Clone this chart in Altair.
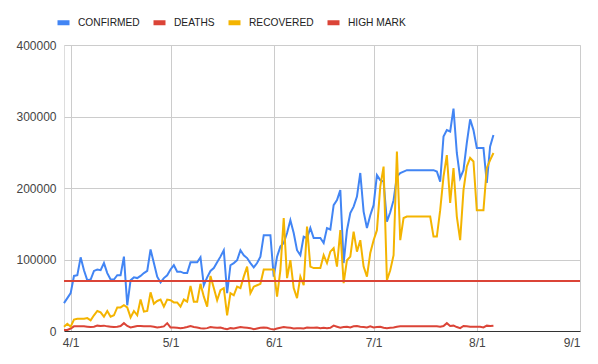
import altair as alt
import pandas as pd

start_date = "2020-03-30"

confirmed = [
    39000, 46000, 53000, 77000, 78000, 103000, 85000, 71000, 72000, 84000,
    86000, 85000, 95000, 81000, 72000, 72000, 78000, 78000, 104000, 36000,
    71000, 75000, 74000, 77000, 81000, 84000, 114000, 95000, 76000, 68000,
    74000, 78000, 86000, 92000, 83000, 83000, 81000, 81000, 96000, 96000,
    96000, 103000, 64000, 75000, 84000, 88000, 96000, 104000, 113000, 53000,
    92000, 95000, 99000, 113000, 106000, 102000, 95000, 89000, 95000, 104000,
    134000, 134000, 134000, 76000, 104000, 118000, 123000, 137000, 155000, 137000,
    113000, 106000, 132000, 130000, 144000, 130000, 130000, 130000, 123000, 144000,
    142000, 176000, 183000, 197000, 95000, 141000, 165000, 174000, 188000, 221000,
    167000, 144000, 162000, 176000, 218000, 211000, 209000, 153000, 166000, 183000,
    216000, 221000, 223000, 225000, 225000, 225000, 225000, 225000, 225000, 225000,
    225000, 225000, 223000, 209000, 272000, 281000, 279000, 311000, 249000, 214000,
    225000, 263000, 296000, 281000, 256000, 256000, 256000, 207000, 258000, 274000,
]

deaths = [
    1500, 1500, 3500, 6500, 6500, 6500, 6500, 6000, 5500, 6000,
    7500, 7000, 7500, 6500, 6000, 5500, 6000, 7000, 11000, 7000,
    5000, 6000, 7000, 7000, 6500, 6500, 6500, 6000, 5000, 5500,
    6500, 11000, 5000, 5000, 4500, 4000, 4500, 5500, 7000, 5500,
    5000, 4000, 3500, 4000, 5500, 5000, 4500, 5000, 3500, 2500,
    4000, 3500, 4500, 5500, 5000, 4500, 4000, 2500, 3500, 4500,
    5000, 4500, 3000, 2000, 3500, 4500, 5500, 5000, 4500, 3500,
    4000, 4000, 3500, 5000, 4500, 4500, 5000, 4000, 4500, 4000,
    4500, 7500, 6000, 4500, 5500, 6000, 5000, 6500, 7000, 6000,
    5500, 5000, 6500, 5000, 5500, 6000, 4500, 4000, 4500, 5000,
    6000, 6500, 6500, 6500, 6500, 6500, 6500, 6500, 6500, 6500,
    6500, 6500, 6500, 6000, 7000, 11000, 7000, 7500, 5500, 4000,
    7000, 6500, 6000, 6000, 6000, 6000, 5000, 7500, 7000, 7500,
]

recovered = [
    6000, 10000, 6000, 16000, 17000, 17000, 17000, 18000, 15000, 22000,
    28000, 26000, 20000, 28000, 20000, 22000, 33000, 33000, 36000, 33000,
    19000, 28000, 22000, 44000, 27000, 28000, 54000, 38000, 42000, 44000,
    34000, 44000, 43000, 40000, 40000, 34000, 44000, 41000, 63000, 41000,
    41000, 66000, 48000, 34000, 77000, 60000, 43000, 57000, 60000, 22000,
    53000, 50000, 62000, 60000, 76000, 90000, 53000, 62000, 64000, 66000,
    86000, 86000, 86000, 86000, 48000, 85000, 158000, 74000, 99000, 60000,
    46000, 76000, 64000, 146000, 90000, 88000, 88000, 88000, 106000, 95000,
    111000, 116000, 90000, 141000, 67000, 99000, 104000, 139000, 111000, 127000,
    90000, 76000, 109000, 127000, 141000, 202000, 230000, 71000, 85000, 106000,
    251000, 127000, 158000, 160000, 160000, 160000, 160000, 160000, 160000, 160000,
    160000, 132000, 132000, 169000, 216000, 246000, 179000, 228000, 160000, 127000,
    197000, 230000, 242000, 237000, 169000, 169000, 169000, 228000, 239000, 249000,
]

high_mark_dates = ["2020-03-30", "2020-09-01"]
high_mark_values = [70000, 70000]

series_names = ["CONFIRMED", "DEATHS", "RECOVERED", "HIGH MARK"]
series_colors = ["#4285F4", "#DB4437", "#F4B400", "#DB4437"]

x_tick_months = [4, 5, 6, 7, 8, 9]
y_ticks = [0, 100000, 200000, 300000, 400000]

dates = pd.date_range(start_date, periods=len(confirmed)).strftime("%Y-%m-%d")
rows = []
for name, vals in zip(series_names[:3], [confirmed, deaths, recovered]):
    for d, v in zip(dates, vals):
        rows.append({"date": d, "series": name, "value": v})
for d, v in zip(high_mark_dates, high_mark_values):
    rows.append({"date": d, "series": "HIGH MARK", "value": v})
df = pd.DataFrame(rows)

FONT = "Arial, Liberation Sans, sans-serif"

x_enc = alt.X(
    "date:T",
    scale=alt.Scale(
        type="utc",
        domain=[alt.DateTime(year=2020, month=3, date=30, utc=True),
                alt.DateTime(year=2020, month=9, date=1, utc=True)],
    ),
    axis=alt.Axis(
        values=[alt.DateTime(year=2020, month=m, date=1, utc=True) for m in x_tick_months],
        labelExpr="utcFormat(datum.value, '%-m/%-d')",
        title=None,
        domain=False,
        ticks=False,
        grid=True,
        gridColor="#cccccc",
        labelFontSize=12,
        labelColor="#444444",
        labelPadding=6,
        labelFont=FONT,
    ),
)

y_enc = alt.Y(
    "value:Q",
    scale=alt.Scale(domain=[0, 400000], nice=False),
    axis=alt.Axis(
        values=y_ticks,
        format="d",
        title=None,
        domain=False,
        ticks=False,
        grid=True,
        gridColor={"condition": {"test": "datum.value === 0", "value": "#333333"}, "value": "#cccccc"},
        labelFontSize=12,
        labelColor="#444444",
        labelPadding=8,
        labelFont=FONT,
    ),
)

color_enc = alt.Color(
    "series:N",
    scale=alt.Scale(domain=series_names, range=series_colors),
    legend=alt.Legend(
        title=None,
        orient="none",
        legendX=-9,
        legendY=-31,
        direction="horizontal",
        symbolType="stroke",
        symbolSize=144,
        symbolStrokeWidth=5,
        labelFontSize=10.2,
        labelColor="#222222",
        labelFont=FONT,
        labelOffset=6,
        columnPadding=3,
        padding=0,
    ),
)

base = alt.Chart(df).mark_line(strokeWidth=2).encode(x=x_enc, y=y_enc, color=color_enc)
layers = [base.transform_filter(alt.datum.series == s) for s in series_names]

chart = alt.layer(*layers).properties(
    width=516,
    height=286,
    padding={"left": 56, "top": 37, "right": 10, "bottom": 25},
    autosize=alt.AutoSizeParams(type="none"),
).configure_view(stroke=None).configure(font=FONT)

chart.save("out.html", embed_options={"renderer": "svg", "actions": False})
